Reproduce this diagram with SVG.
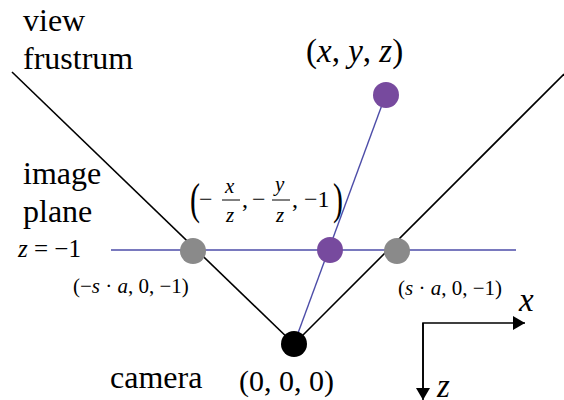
<svg xmlns="http://www.w3.org/2000/svg" width="564" height="400" viewBox="0 0 564 400">
<style>
text{font-family:"Liberation Serif","DejaVu Serif","Times New Roman",serif;fill:#000}
.lbl{font-size:32px}
.m{font-style:italic}
.blk{stroke:#000;stroke-width:1.6;fill:none}
.blu{stroke:#4d4da8;stroke-width:1.4;fill:none}
.gray{fill:#8a8a8a}
.pur{fill:#774a9e}
</style>
<defs>
<marker id="ah" viewBox="0 0 12 14" refX="12" refY="7" markerWidth="12" markerHeight="14" markerUnits="userSpaceOnUse" orient="auto">
<path d="M0,0 L12,7 L0,14 Z" fill="#000"/>
</marker>
</defs>
<g id="connectors">
<line class="blk" x1="12" y1="72" x2="294" y2="344"/>
<line class="blk" x1="294" y1="344" x2="564" y2="74"/>
<line class="blu" x1="111" y1="250" x2="516" y2="250"/>
<line class="blu" x1="294" y1="344" x2="386" y2="94"/>
<polyline class="blk" points="423,398 423,323 525,323" marker-end="url(#ah)"/>
<line class="blk" x1="423" y1="323" x2="423" y2="400" marker-end="url(#ah)"/>
</g>
<g id="frustrum-label">
<text class="lbl" x="23" y="31">view</text>
<text class="lbl" x="23" y="69">frustrum</text>
</g>
<g id="image-plane-label">
<text class="lbl" x="23" y="184">image</text>
<text class="lbl" x="23" y="222">plane</text>
<text x="18" y="257" font-size="25"><tspan class="m">z</tspan> = −1</text>
</g>
<g id="point">
<circle class="pur" cx="386" cy="95" r="13"/>
<text x="306" y="62" font-size="33">(<tspan class="m">x</tspan>, <tspan class="m">y</tspan>, <tspan class="m">z</tspan>)</text>
</g>
<g id="projection">
<circle class="pur" cx="330" cy="250" r="13"/>
<text x="190" y="214" font-size="30" transform="translate(190 214) scale(1 1.45) translate(-190 -214)">(</text>
<text x="199" y="207" font-size="24">−</text>
<text x="225" y="193" font-size="21" class="m">x</text>
<line x1="222" y1="200" x2="240" y2="200" stroke="#000" stroke-width="1"/>
<text x="226" y="222" font-size="21" class="m">z</text>
<text x="242" y="207" font-size="24">,</text>
<text x="252" y="207" font-size="24">−</text>
<text x="275" y="191" font-size="21" class="m">y</text>
<line x1="272" y1="200" x2="290" y2="200" stroke="#000" stroke-width="1"/>
<text x="276" y="222" font-size="21" class="m">z</text>
<text x="292" y="207" font-size="24">, −1</text>
<text x="333" y="214" font-size="30" transform="translate(333 214) scale(1 1.45) translate(-333 -214)">)</text>
</g>
<g id="left-edge">
<circle class="gray" cx="193" cy="251" r="13"/>
<text x="73" y="293" font-size="21">(−<tspan class="m">s</tspan> · <tspan class="m">a</tspan>, 0, −1)</text>
</g>
<g id="right-edge">
<circle class="gray" cx="397" cy="251" r="13"/>
<text x="398" y="295" font-size="21">(<tspan class="m">s</tspan> · <tspan class="m">a</tspan>, 0, −1)</text>
</g>
<g id="camera">
<circle cx="294" cy="344" r="13" fill="#000"/>
<text class="lbl" x="110" y="388">camera</text>
<text x="239" y="391" font-size="30">(0, 0, 0)</text>
</g>
<g id="axes">
<text x="519" y="311" font-size="33" class="m">x</text>
<text x="437" y="397" font-size="33" class="m">z</text>
</g>
</svg>
